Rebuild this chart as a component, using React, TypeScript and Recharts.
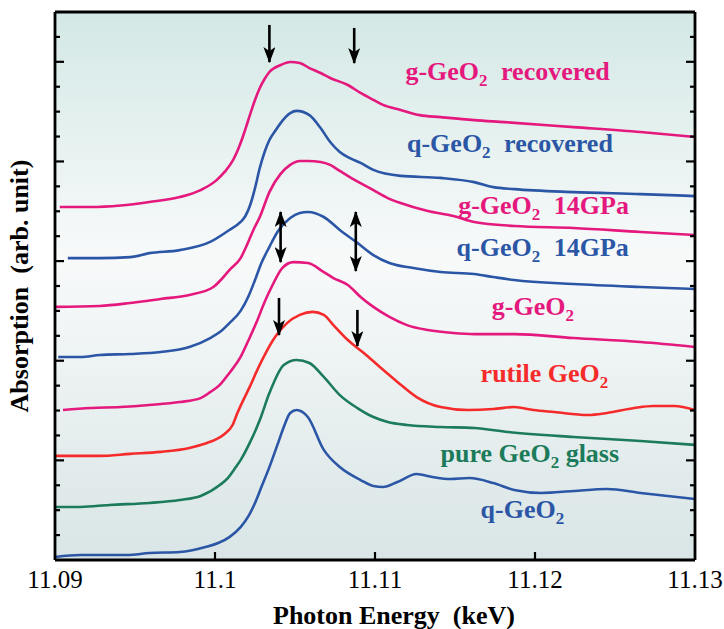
import {
  CartesianGrid,
  Line,
  LineChart,
  ReferenceDot,
  ReferenceLine,
  XAxis,
  YAxis,
} from 'recharts'

const SERIF = '"Liberation Serif", "Times New Roman", Times, serif'
const PINK = '#e5187e'
const BLUE = '#2b56a6'
const RED = '#f52b2b'
const GREEN = '#1b7b5a'

const energyTicks = [11.09, 11.1, 11.11, 11.12, 11.13]
const offsetTicks = [1, 2, 3, 4, 5, 6, 7, 8, 9, 10, 11, 12, 13, 14, 15, 16, 17, 18, 19, 20, 21]

// [energy keV, absorption (offset, arb. unit)]
const gRecovered: [number, number][] = [
  [11.0903, 14.17], [11.0922, 14.17], [11.0941, 14.23], [11.0959, 14.37], [11.0978, 14.57],
  [11.0991, 14.85], [11.1001, 15.25], [11.1006, 15.58], [11.1011, 16.02], [11.1016, 16.74],
  [11.1019, 17.3], [11.1022, 17.9], [11.1025, 18.47], [11.1028, 18.95], [11.1031, 19.31],
  [11.1034, 19.59], [11.1041, 19.87], [11.1047, 19.99], [11.1053, 19.95],
  [11.1059, 19.75], [11.1066, 19.55], [11.1072, 19.35], [11.1083, 19.07], [11.1091, 18.75],
  [11.1099, 18.47], [11.1105, 18.27], [11.1116, 18.07], [11.1128, 17.86], [11.1141, 17.78],
  [11.1162, 17.66], [11.1181, 17.58], [11.1224, 17.38], [11.1266, 17.18], [11.13, 16.98],
]

const qRecovered: [number, number][] = [
  [11.0908, 12.12], [11.0928, 12.12], [11.0947, 12.16], [11.0959, 12.32], [11.0978, 12.44],
  [11.0997, 12.77], [11.1009, 13.25], [11.1016, 13.57], [11.1019, 13.81], [11.1022, 14.25],
  [11.1025, 14.93], [11.1028, 15.74], [11.1031, 16.38], [11.1034, 16.86], [11.1038, 17.26],
  [11.1041, 17.54], [11.1047, 17.94], [11.1051, 18.03], [11.1059, 17.86],
  [11.1066, 17.34], [11.1072, 16.78], [11.1078, 16.38], [11.1084, 16.14], [11.1091, 15.94],
  [11.1099, 15.66], [11.1116, 15.42], [11.1141, 15.34], [11.1162, 15.17], [11.1174, 14.97],
  [11.1187, 14.89], [11.1224, 14.77], [11.1266, 14.69], [11.13, 14.61],
]

const g14GPa: [number, number][] = [
  [11.09, 10.16], [11.0928, 10.2], [11.0947, 10.32], [11.0966, 10.48], [11.0984, 10.64],
  [11.0999, 10.96], [11.1003, 11.2], [11.1009, 11.64], [11.1016, 12.12], [11.102, 12.65],
  [11.1024, 13.25], [11.1028, 13.77], [11.1034, 14.77], [11.1041, 15.5], [11.1047, 15.86],
  [11.1053, 16.02], [11.1058, 16.02],
  [11.1066, 15.98], [11.1072, 15.86], [11.1078, 15.62], [11.1084, 15.38], [11.1099, 14.85],
  [11.1108, 14.53], [11.1116, 14.33], [11.1133, 14.01], [11.1149, 13.81], [11.1162, 13.57],
  [11.1187, 13.41], [11.1224, 13.33], [11.1266, 13.17], [11.13, 13.05],
]

const q14GPa: [number, number][] = [
  [11.0902, 8.15], [11.0916, 8.15], [11.0928, 8.23], [11.0947, 8.27], [11.0966, 8.35],
  [11.0984, 8.55], [11.0997, 8.91], [11.1003, 9.15], [11.1009, 9.51], [11.1016, 10.0],
  [11.1021, 10.6], [11.1025, 11.24], [11.1029, 11.92], [11.1034, 12.57], [11.1039, 13.17],
  [11.1047, 13.73], [11.1053, 13.93], [11.1058, 13.97],
  [11.1068, 13.77], [11.1078, 13.25], [11.1089, 12.73], [11.1099, 12.24], [11.1109, 11.92],
  [11.1124, 11.72], [11.1141, 11.56], [11.1162, 11.48], [11.1174, 11.36], [11.1187, 11.24],
  [11.1224, 11.08], [11.1266, 10.96], [11.13, 10.88],
]

const gGlass: [number, number][] = [
  [11.0905, 6.02], [11.0922, 6.1], [11.0941, 6.14], [11.0959, 6.22], [11.0978, 6.34],
  [11.0991, 6.5], [11.0997, 6.74], [11.1003, 7.03], [11.1009, 7.51], [11.1016, 8.15],
  [11.1021, 8.83], [11.1026, 9.55], [11.1031, 10.36], [11.1036, 11.04], [11.1042, 11.72],
  [11.1049, 11.96], [11.1058, 11.92], [11.1068, 11.56], [11.1074, 11.32], [11.1083, 11.04],
  [11.1091, 10.56], [11.1099, 10.16], [11.1109, 9.76], [11.112, 9.43], [11.1133, 9.23],
  [11.1149, 9.11], [11.1162, 9.07], [11.1187, 9.07], [11.1224, 8.91], [11.1266, 8.75],
  [11.13, 8.55],
]

const rutile: [number, number][] = [
  [11.09, 4.18], [11.0928, 4.18], [11.0947, 4.26], [11.0966, 4.34], [11.0984, 4.5],
  [11.0995, 4.7], [11.1, 4.82], [11.1006, 5.06], [11.1011, 5.42], [11.1014, 5.9],
  [11.1018, 6.46], [11.1022, 6.99], [11.1027, 7.71], [11.1032, 8.35], [11.1038, 8.99],
  [11.1045, 9.51], [11.1053, 9.84], [11.1061, 9.96],
  [11.1068, 9.84], [11.1074, 9.43], [11.1083, 8.83], [11.1093, 8.31], [11.1103, 7.75],
  [11.1114, 7.15], [11.1126, 6.54], [11.1141, 6.14], [11.1158, 6.02], [11.1174, 6.06],
  [11.1187, 6.14], [11.1199, 6.02], [11.1212, 5.94], [11.1233, 5.82], [11.1245, 5.9],
  [11.1262, 6.1], [11.1274, 6.18], [11.1287, 6.18], [11.13, 6.02],
]

const pureGlass: [number, number][] = [
  [11.09, 2.13], [11.0916, 2.13], [11.0934, 2.21], [11.0959, 2.29], [11.0978, 2.41],
  [11.0991, 2.57], [11.1003, 3.01], [11.1008, 3.29], [11.1013, 3.73], [11.1016, 4.01],
  [11.1022, 4.74], [11.1028, 5.62], [11.1034, 6.7], [11.1043, 7.83], [11.1051, 8.03],
  [11.1059, 7.91], [11.1068, 7.35], [11.1078, 6.62], [11.1089, 6.1], [11.1099, 5.74],
  [11.1108, 5.54], [11.112, 5.42], [11.1141, 5.34], [11.1162, 5.3], [11.1183, 5.14],
  [11.1224, 4.94], [11.1266, 4.78], [11.13, 4.62],
]

const quartz: [number, number][] = [
  [11.09, 0.12], [11.0916, 0.2], [11.0945, 0.2], [11.0959, 0.28], [11.0978, 0.32],
  [11.0994, 0.52], [11.1002, 0.68], [11.1009, 0.92], [11.1016, 1.32], [11.1021, 1.77],
  [11.1025, 2.29], [11.1029, 2.93], [11.1034, 3.73], [11.1039, 4.62], [11.1043, 5.34],
  [11.1047, 5.9], [11.1051, 6.02], [11.1058, 5.74], [11.1068, 4.42],
  [11.1078, 3.73], [11.1091, 3.21], [11.1099, 2.97], [11.1105, 2.93], [11.1114, 3.13],
  [11.1126, 3.45], [11.1136, 3.33], [11.1147, 3.25], [11.1159, 3.29], [11.1174, 3.09],
  [11.1187, 2.81], [11.1204, 2.69], [11.1224, 2.77], [11.1245, 2.85], [11.1266, 2.69],
  [11.13, 2.45],
]

const series = [
  { name: 'g-GeO2 recovered', color: PINK, points: gRecovered },
  { name: 'q-GeO2 recovered', color: BLUE, points: qRecovered },
  { name: 'g-GeO2 14GPa', color: PINK, points: g14GPa },
  { name: 'q-GeO2 14GPa', color: BLUE, points: q14GPa },
  { name: 'g-GeO2', color: PINK, points: gGlass },
  { name: 'rutile GeO2', color: RED, points: rutile },
  { name: 'pure GeO2 glass', color: GREEN, points: pureGlass },
  { name: 'q-GeO2', color: BLUE, points: quartz },
]

// text labels: anchor (energy, offset), text before the subscript 2, text after
const labels = [
  { e: 11.1119, v: 19.27, pre: 'g-GeO', post: 'recovered', gap: 7, color: PINK },
  { e: 11.112, v: 16.38, pre: 'q-GeO', post: 'recovered', gap: 7, color: BLUE },
  { e: 11.1152, v: 13.89, pre: 'g-GeO', post: '14GPa', gap: 7, color: PINK },
  { e: 11.1151, v: 12.2, pre: 'q-GeO', post: '14GPa', gap: 7, color: BLUE },
  { e: 11.1173, v: 9.84, pre: 'g-GeO', post: '', gap: 0, color: PINK },
  { e: 11.1166, v: 7.15, pre: 'rutile GeO', post: '', gap: 0, color: RED },
  { e: 11.1141, v: 3.93, pre: 'pure GeO', post: 'glass', gap: 0, color: GREEN },
  { e: 11.1166, v: 1.69, pre: 'q-GeO', post: '', gap: 0, color: BLUE },
]

// arrows: energy, from offset, to offset, double-headed?
const arrows = [
  { e: 11.1034, from: 21.48, to: 19.99, both: false },
  { e: 11.1087, from: 21.36, to: 19.95, both: false },
  { e: 11.1041, from: 13.97, to: 11.96, both: true },
  { e: 11.1088, from: 13.97, to: 11.6, both: true },
  { e: 11.104, from: 10.52, to: 9.03, both: false },
  { e: 11.1089, from: 10.04, to: 8.59, both: false },
]

const isEdge = (v: number) => Math.abs(v - 11.09) < 1e-6 || Math.abs(v - 11.13) < 1e-6

const BottomTick = (p: any) => {
  const { x, y, payload } = p
  return (
    <g>
      {!isEdge(payload.value) && <line x1={x} x2={x} y1={y} y2={y - 8} stroke="#000" strokeWidth={2.2} />}
      <text x={x} y={y + 28} textAnchor="middle" fontSize={25} fontFamily={SERIF} fill="#000">
        {String(payload.value)}
      </text>
    </g>
  )
}

const TopTick = (p: any) => {
  const { x, y, payload } = p
  if (isEdge(payload.value)) return <g />
  return <line x1={x} x2={x} y1={y} y2={y + 8} stroke="#000" strokeWidth={2.2} />
}

const LeftTick = (p: any) => {
  const { x, y, payload } = p
  const len = payload.value % 4 === 0 ? 9 : 5
  return <line x1={x} x2={x + len} y1={y} y2={y} stroke="#000" strokeWidth={2.2} />
}

const RightTick = (p: any) => {
  const { x, y, payload } = p
  const len = payload.value % 4 === 0 ? 9 : 5
  return <line x1={x} x2={x - len} y1={y} y2={y} stroke="#000" strokeWidth={2.2} />
}

const frame = { stroke: '#000', strokeWidth: 2.8 }

export default function App() {
  return (
    <div style={{ width: 724, height: 629 }}>
      <style>{'body { margin: 0; }'}</style>
      <LineChart width={724} height={629} margin={{ top: 0, right: 0, bottom: 0, left: 0 }}>
        <defs>
          <linearGradient id="plotBg" x1="0" y1="0" x2="0" y2="1">
            <stop offset="0%" stopColor="#d3e8e5" />
            <stop offset="45%" stopColor="#f8fafa" />
            <stop offset="100%" stopColor="#d9e5e6" />
          </linearGradient>
          <marker
            id="arrowHead"
            viewBox="0 0 16 12"
            refX={15}
            refY={6}
            markerWidth={16}
            markerHeight={12}
            markerUnits="userSpaceOnUse"
            orient="auto-start-reverse"
          >
            <path d="M0,0 L16,6 L0,12 L4,6 Z" fill="#000" />
          </marker>
        </defs>
        <CartesianGrid horizontal={false} vertical={false} fill="url(#plotBg)" />
        <XAxis
          dataKey="e"
          type="number"
          domain={[11.09, 11.13]}
          ticks={energyTicks}
          interval={0}
          allowDataOverflow
          height={69}
          tickSize={0}
          tickMargin={0}
          tickLine={false}
          axisLine={frame}
          tick={BottomTick}
          label={{
            content: (props: any) => {
              const vb = props.viewBox
              return (
                <text
                  x={vb.x + vb.width / 2 + 19}
                  y={vb.y + 64}
                  textAnchor="middle"
                  fontSize={26}
                  fontWeight="bold"
                  fontFamily={SERIF}
                  fill="#000"
                >
                  {'Photon Energy\u00a0\u00a0(keV)'}
                </text>
              )
            },
          }}
        />
        <XAxis
          xAxisId="top"
          orientation="top"
          type="number"
          domain={[11.09, 11.13]}
          ticks={energyTicks}
          interval={0}
          allowDataOverflow
          height={12}
          tickSize={0}
          tickMargin={0}
          tickLine={false}
          axisLine={frame}
          tick={TopTick}
        />
        <YAxis
          type="number"
          domain={[0, 22]}
          ticks={offsetTicks}
          interval={0}
          allowDataOverflow
          width={55}
          tickSize={0}
          tickMargin={0}
          tickLine={false}
          axisLine={frame}
          tick={LeftTick}
          label={{
            content: (props: any) => {
              const vb = props.viewBox
              const cx = vb.x + 19
              const cy = vb.y + vb.height / 2
              // vertical writing, turned so it reads bottom to top
              return (
                <text
                  x={cx}
                  y={cy}
                  transform={`rotate(180 ${cx} ${cy})`}
                  style={{ writingMode: 'vertical-rl' }}
                  textAnchor="middle"
                  fontSize={26}
                  fontWeight="bold"
                  fontFamily={SERIF}
                  fill="#000"
                >
                  {'Absorption\u00a0\u00a0(arb. unit)'}
                </text>
              )
            },
          }}
        />
        <YAxis
          yAxisId="right"
          orientation="right"
          type="number"
          domain={[0, 22]}
          ticks={offsetTicks}
          interval={0}
          allowDataOverflow
          width={29}
          tickSize={0}
          tickMargin={0}
          tickLine={false}
          axisLine={frame}
          tick={RightTick}
        />
        {series.map((s) => (
          <Line
            key={s.name}
            name={s.name}
            data={s.points.map(([e, v]) => ({ e, v }))}
            dataKey="v"
            type="monotone"
            stroke={s.color}
            strokeWidth={2.6}
            dot={false}
            activeDot={false}
            isAnimationActive={false}
          />
        ))}
        {arrows.map((a, i) => (
          <ReferenceLine
            key={'arrow' + i}
            segment={[
              { x: a.e, y: a.from },
              { x: a.e, y: a.to },
            ]}
            shape={(p: any) => (
              <line
                x1={p.x1}
                y1={p.y1}
                x2={p.x2}
                y2={p.y2}
                stroke="#000"
                strokeWidth={2.6}
                markerEnd="url(#arrowHead)"
                markerStart={a.both ? 'url(#arrowHead)' : undefined}
              />
            )}
          />
        ))}
        {labels.map((l, i) => (
          <ReferenceDot
            key={'label' + i}
            x={l.e}
            y={l.v}
            r={0}
            shape={(p: any) => (
              <text
                x={p.cx}
                y={p.cy}
                fontSize={26}
                fontWeight="bold"
                fontFamily={SERIF}
                fill={l.color}
              >
                {l.pre}
                <tspan fontSize={17} dy={6}>2</tspan>
                <tspan dy={-6} dx={l.gap}>{l.post ? ' ' + l.post : ''}</tspan>
              </text>
            )}
          />
        ))}
      </LineChart>
    </div>
  )
}
